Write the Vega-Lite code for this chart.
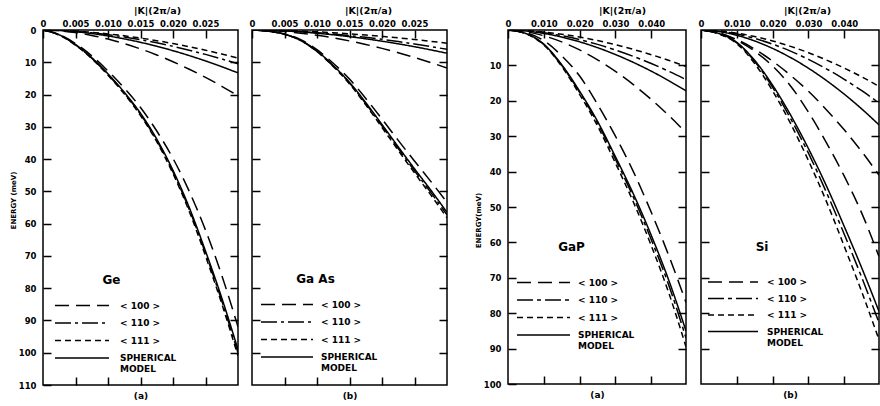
{
"$schema":"https://vega.github.io/schema/vega-lite/v6.json",
"padding":{"left":8,"top":4,"right":0,"bottom":0},
"spacing":22,
"resolve":{"scale":{"strokeDash":"independent"},"legend":{"strokeDash":"independent"}},
"hconcat":[
{"spacing":6,"resolve":{"scale":{"strokeDash":"independent"},"legend":{"strokeDash":"independent"}},"hconcat":[
{"width":195,"height":355,
"data":{"values":[
{"dir":"SPHERICAL MODEL","br":"L","k":0,"e":0},{"dir":"SPHERICAL MODEL","br":"L","k":0.0025,"e":1.5},{"dir":"SPHERICAL MODEL","br":"L","k":0.005,"e":4.5},{"dir":"SPHERICAL MODEL","br":"L","k":0.0075,"e":8.6},{"dir":"SPHERICAL MODEL","br":"L","k":0.01,"e":13.6},{"dir":"SPHERICAL MODEL","br":"L","k":0.0125,"e":19.3},{"dir":"SPHERICAL MODEL","br":"L","k":0.015,"e":25.8},{"dir":"SPHERICAL MODEL","br":"L","k":0.0175,"e":33.8},{"dir":"SPHERICAL MODEL","br":"L","k":0.02,"e":43.5},{"dir":"SPHERICAL MODEL","br":"L","k":0.0225,"e":55},{"dir":"SPHERICAL MODEL","br":"L","k":0.025,"e":68.5},{"dir":"SPHERICAL MODEL","br":"L","k":0.0275,"e":83},{"dir":"SPHERICAL MODEL","br":"L","k":0.03,"e":99},
{"dir":"< 111 >","br":"L","k":0,"e":0},{"dir":"< 111 >","br":"L","k":0.0025,"e":1.6},{"dir":"< 111 >","br":"L","k":0.005,"e":4.7},{"dir":"< 111 >","br":"L","k":0.0075,"e":8.9},{"dir":"< 111 >","br":"L","k":0.01,"e":14},{"dir":"< 111 >","br":"L","k":0.0125,"e":19.8},{"dir":"< 111 >","br":"L","k":0.015,"e":26.5},{"dir":"< 111 >","br":"L","k":0.0175,"e":34.6},{"dir":"< 111 >","br":"L","k":0.02,"e":44.5},{"dir":"< 111 >","br":"L","k":0.0225,"e":56.2},{"dir":"< 111 >","br":"L","k":0.025,"e":70},{"dir":"< 111 >","br":"L","k":0.0275,"e":84.8},{"dir":"< 111 >","br":"L","k":0.03,"e":101},
{"dir":"< 110 >","br":"L","k":0,"e":0},{"dir":"< 110 >","br":"L","k":0.0025,"e":1.5},{"dir":"< 110 >","br":"L","k":0.005,"e":4.6},{"dir":"< 110 >","br":"L","k":0.0075,"e":8.7},{"dir":"< 110 >","br":"L","k":0.01,"e":13.8},{"dir":"< 110 >","br":"L","k":0.0125,"e":19.5},{"dir":"< 110 >","br":"L","k":0.015,"e":26.1},{"dir":"< 110 >","br":"L","k":0.0175,"e":34.2},{"dir":"< 110 >","br":"L","k":0.02,"e":44},{"dir":"< 110 >","br":"L","k":0.0225,"e":55.6},{"dir":"< 110 >","br":"L","k":0.025,"e":69.2},{"dir":"< 110 >","br":"L","k":0.0275,"e":83.9},{"dir":"< 110 >","br":"L","k":0.03,"e":100},
{"dir":"< 100 >","br":"L","k":0,"e":0},{"dir":"< 100 >","br":"L","k":0.0025,"e":1.4},{"dir":"< 100 >","br":"L","k":0.005,"e":4.2},{"dir":"< 100 >","br":"L","k":0.0075,"e":8},{"dir":"< 100 >","br":"L","k":0.01,"e":12.7},{"dir":"< 100 >","br":"L","k":0.0125,"e":18},{"dir":"< 100 >","br":"L","k":0.015,"e":24},{"dir":"< 100 >","br":"L","k":0.0175,"e":31.3},{"dir":"< 100 >","br":"L","k":0.02,"e":39.8},{"dir":"< 100 >","br":"L","k":0.0225,"e":50},{"dir":"< 100 >","br":"L","k":0.025,"e":62},{"dir":"< 100 >","br":"L","k":0.0275,"e":76},{"dir":"< 100 >","br":"L","k":0.03,"e":92},
{"dir":"< 100 >","br":"T","k":0,"e":0},{"dir":"< 100 >","br":"T","k":0.0025,"e":0.23},{"dir":"< 100 >","br":"T","k":0.005,"e":0.81},{"dir":"< 100 >","br":"T","k":0.0075,"e":1.68},{"dir":"< 100 >","br":"T","k":0.01,"e":2.82},{"dir":"< 100 >","br":"T","k":0.0125,"e":4.22},{"dir":"< 100 >","br":"T","k":0.015,"e":5.86},{"dir":"< 100 >","br":"T","k":0.0175,"e":7.73},{"dir":"< 100 >","br":"T","k":0.02,"e":9.83},{"dir":"< 100 >","br":"T","k":0.0225,"e":12.16},{"dir":"< 100 >","br":"T","k":0.025,"e":14.69},{"dir":"< 100 >","br":"T","k":0.0275,"e":17.44},{"dir":"< 100 >","br":"T","k":0.03,"e":20.4},
{"dir":"SPHERICAL MODEL","br":"T","k":0,"e":0},{"dir":"SPHERICAL MODEL","br":"T","k":0.0025,"e":0.15},{"dir":"SPHERICAL MODEL","br":"T","k":0.005,"e":0.53},{"dir":"SPHERICAL MODEL","br":"T","k":0.0075,"e":1.1},{"dir":"SPHERICAL MODEL","br":"T","k":0.01,"e":1.84},{"dir":"SPHERICAL MODEL","br":"T","k":0.0125,"e":2.75},{"dir":"SPHERICAL MODEL","br":"T","k":0.015,"e":3.82},{"dir":"SPHERICAL MODEL","br":"T","k":0.0175,"e":5.04},{"dir":"SPHERICAL MODEL","br":"T","k":0.02,"e":6.41},{"dir":"SPHERICAL MODEL","br":"T","k":0.0225,"e":7.93},{"dir":"SPHERICAL MODEL","br":"T","k":0.025,"e":9.58},{"dir":"SPHERICAL MODEL","br":"T","k":0.0275,"e":11.37},{"dir":"SPHERICAL MODEL","br":"T","k":0.03,"e":13.3},
{"dir":"< 110 >","br":"T","k":0,"e":0},{"dir":"< 110 >","br":"T","k":0.0025,"e":0.12},{"dir":"< 110 >","br":"T","k":0.005,"e":0.42},{"dir":"< 110 >","br":"T","k":0.0075,"e":0.87},{"dir":"< 110 >","br":"T","k":0.01,"e":1.45},{"dir":"< 110 >","br":"T","k":0.0125,"e":2.17},{"dir":"< 110 >","br":"T","k":0.015,"e":3.02},{"dir":"< 110 >","br":"T","k":0.0175,"e":3.98},{"dir":"< 110 >","br":"T","k":0.02,"e":5.06},{"dir":"< 110 >","br":"T","k":0.0225,"e":6.26},{"dir":"< 110 >","br":"T","k":0.025,"e":7.56},{"dir":"< 110 >","br":"T","k":0.0275,"e":8.98},{"dir":"< 110 >","br":"T","k":0.03,"e":10.5},
{"dir":"< 111 >","br":"T","k":0,"e":0},{"dir":"< 111 >","br":"T","k":0.0025,"e":0.1},{"dir":"< 111 >","br":"T","k":0.005,"e":0.35},{"dir":"< 111 >","br":"T","k":0.0075,"e":0.72},{"dir":"< 111 >","br":"T","k":0.01,"e":1.2},{"dir":"< 111 >","br":"T","k":0.0125,"e":1.8},{"dir":"< 111 >","br":"T","k":0.015,"e":2.5},{"dir":"< 111 >","br":"T","k":0.0175,"e":3.3},{"dir":"< 111 >","br":"T","k":0.02,"e":4.19},{"dir":"< 111 >","br":"T","k":0.0225,"e":5.19},{"dir":"< 111 >","br":"T","k":0.025,"e":6.26},{"dir":"< 111 >","br":"T","k":0.0275,"e":7.44},{"dir":"< 111 >","br":"T","k":0.03,"e":8.7}
]},
"layer":[
{"mark":{"type":"line","interpolate":"monotone","color":"black","strokeWidth":1.5,"clip":true},
"encoding":{
"x":{"field":"k","type":"quantitative","scale":{"domain":[0,0.03],"nice":false},"axis":{"orient":"top","values":[0,0.005,0.01,0.015,0.02,0.025],"labelExpr":"datum.value == 0 ? '0' : format(datum.value, '.3f')","title":"|K|(2π/a)","titleX":114}},
"y":{"field":"e","type":"quantitative","scale":{"domain":[0,110],"reverse":true,"nice":false},"axis":{"orient":"left","values":[0,10,20,30,40,50,60,70,80,90,100,110],"title":"ENERGY (meV)","titleY":170,"minExtent":24,"maxExtent":24,"titlePadding":3,"titleFontSize":7}},
"strokeDash":{"field":"dir","type":"nominal","scale":{"domain":["< 100 >","< 110 >","< 111 >","SPHERICAL MODEL"],"range":[[14,7],[16,4,3,4],[6,4],[1,0]]},"legend":{"title":"Ge","legendX":4.5,"legendY":245,"titlePadding":11,"symbolSize":182.25,"labelOffset":57.5,"labelExpr":"datum.label == 'SPHERICAL MODEL' ? ['SPHERICAL','MODEL'] : datum.label"}},
"detail":{"field":"br","type":"nominal"}}},
{"mark":{"type":"point","opacity":0},
"encoding":{
"x":{"field":"k","type":"quantitative","scale":{"domain":[0,0.03],"nice":false},"axis":{"orient":"bottom","values":[0.005,0.01,0.015,0.02,0.025],"labels":false,"title":"(a)"}},
"y":{"field":"e","type":"quantitative","scale":{"domain":[0,110],"reverse":true,"nice":false},"axis":{"orient":"right","values":[10,20,30,40,50,60,70,80,90,100],"labels":false,"title":null}}}}
],
"resolve":{"axis":{"x":"independent","y":"independent"}}},
{"width":195,"height":355,
"data":{"values":[
{"dir":"SPHERICAL MODEL","br":"L","k":0,"e":0},{"dir":"SPHERICAL MODEL","br":"L","k":0.0025,"e":0.4},{"dir":"SPHERICAL MODEL","br":"L","k":0.005,"e":1.3},{"dir":"SPHERICAL MODEL","br":"L","k":0.0075,"e":3.2},{"dir":"SPHERICAL MODEL","br":"L","k":0.01,"e":6.5},{"dir":"SPHERICAL MODEL","br":"L","k":0.0125,"e":11},{"dir":"SPHERICAL MODEL","br":"L","k":0.015,"e":16.2},{"dir":"SPHERICAL MODEL","br":"L","k":0.0175,"e":22.5},{"dir":"SPHERICAL MODEL","br":"L","k":0.02,"e":29.3},{"dir":"SPHERICAL MODEL","br":"L","k":0.0225,"e":36.2},{"dir":"SPHERICAL MODEL","br":"L","k":0.025,"e":43},{"dir":"SPHERICAL MODEL","br":"L","k":0.0275,"e":49.6},{"dir":"SPHERICAL MODEL","br":"L","k":0.03,"e":56.5},
{"dir":"< 111 >","br":"L","k":0,"e":0},{"dir":"< 111 >","br":"L","k":0.0025,"e":0.4},{"dir":"< 111 >","br":"L","k":0.005,"e":1.35},{"dir":"< 111 >","br":"L","k":0.0075,"e":3.3},{"dir":"< 111 >","br":"L","k":0.01,"e":6.7},{"dir":"< 111 >","br":"L","k":0.0125,"e":11.3},{"dir":"< 111 >","br":"L","k":0.015,"e":16.7},{"dir":"< 111 >","br":"L","k":0.0175,"e":23.2},{"dir":"< 111 >","br":"L","k":0.02,"e":30.2},{"dir":"< 111 >","br":"L","k":0.0225,"e":37.3},{"dir":"< 111 >","br":"L","k":0.025,"e":44.3},{"dir":"< 111 >","br":"L","k":0.0275,"e":51.1},{"dir":"< 111 >","br":"L","k":0.03,"e":58.2},
{"dir":"< 110 >","br":"L","k":0,"e":0},{"dir":"< 110 >","br":"L","k":0.0025,"e":0.4},{"dir":"< 110 >","br":"L","k":0.005,"e":1.3},{"dir":"< 110 >","br":"L","k":0.0075,"e":3.25},{"dir":"< 110 >","br":"L","k":0.01,"e":6.6},{"dir":"< 110 >","br":"L","k":0.0125,"e":11.2},{"dir":"< 110 >","br":"L","k":0.015,"e":16.4},{"dir":"< 110 >","br":"L","k":0.0175,"e":22.8},{"dir":"< 110 >","br":"L","k":0.02,"e":29.7},{"dir":"< 110 >","br":"L","k":0.0225,"e":36.7},{"dir":"< 110 >","br":"L","k":0.025,"e":43.6},{"dir":"< 110 >","br":"L","k":0.0275,"e":50.3},{"dir":"< 110 >","br":"L","k":0.03,"e":57.3},
{"dir":"< 100 >","br":"L","k":0,"e":0},{"dir":"< 100 >","br":"L","k":0.0025,"e":0.38},{"dir":"< 100 >","br":"L","k":0.005,"e":1.2},{"dir":"< 100 >","br":"L","k":0.0075,"e":3},{"dir":"< 100 >","br":"L","k":0.01,"e":6.1},{"dir":"< 100 >","br":"L","k":0.0125,"e":10.3},{"dir":"< 100 >","br":"L","k":0.015,"e":15.2},{"dir":"< 100 >","br":"L","k":0.0175,"e":21.2},{"dir":"< 100 >","br":"L","k":0.02,"e":27.6},{"dir":"< 100 >","br":"L","k":0.0225,"e":34.2},{"dir":"< 100 >","br":"L","k":0.025,"e":40.6},{"dir":"< 100 >","br":"L","k":0.0275,"e":46.9},{"dir":"< 100 >","br":"L","k":0.03,"e":53.4},
{"dir":"< 100 >","br":"T","k":0,"e":0},{"dir":"< 100 >","br":"T","k":0.0025,"e":0.13},{"dir":"< 100 >","br":"T","k":0.005,"e":0.47},{"dir":"< 100 >","br":"T","k":0.0075,"e":0.97},{"dir":"< 100 >","br":"T","k":0.01,"e":1.63},{"dir":"< 100 >","br":"T","k":0.0125,"e":2.44},{"dir":"< 100 >","br":"T","k":0.015,"e":3.39},{"dir":"< 100 >","br":"T","k":0.0175,"e":4.47},{"dir":"< 100 >","br":"T","k":0.02,"e":5.69},{"dir":"< 100 >","br":"T","k":0.0225,"e":7.03},{"dir":"< 100 >","br":"T","k":0.025,"e":8.5},{"dir":"< 100 >","br":"T","k":0.0275,"e":10.09},{"dir":"< 100 >","br":"T","k":0.03,"e":11.8},
{"dir":"SPHERICAL MODEL","br":"T","k":0,"e":0},{"dir":"SPHERICAL MODEL","br":"T","k":0.0025,"e":0.08},{"dir":"SPHERICAL MODEL","br":"T","k":0.005,"e":0.29},{"dir":"SPHERICAL MODEL","br":"T","k":0.0075,"e":0.59},{"dir":"SPHERICAL MODEL","br":"T","k":0.01,"e":1},{"dir":"SPHERICAL MODEL","br":"T","k":0.0125,"e":1.49},{"dir":"SPHERICAL MODEL","br":"T","k":0.015,"e":2.07},{"dir":"SPHERICAL MODEL","br":"T","k":0.0175,"e":2.73},{"dir":"SPHERICAL MODEL","br":"T","k":0.02,"e":3.47},{"dir":"SPHERICAL MODEL","br":"T","k":0.0225,"e":4.29},{"dir":"SPHERICAL MODEL","br":"T","k":0.025,"e":5.18},{"dir":"SPHERICAL MODEL","br":"T","k":0.0275,"e":6.16},{"dir":"SPHERICAL MODEL","br":"T","k":0.03,"e":7.2},
{"dir":"< 110 >","br":"T","k":0,"e":0},{"dir":"< 110 >","br":"T","k":0.0025,"e":0.07},{"dir":"< 110 >","br":"T","k":0.005,"e":0.24},{"dir":"< 110 >","br":"T","k":0.0075,"e":0.5},{"dir":"< 110 >","br":"T","k":0.01,"e":0.83},{"dir":"< 110 >","br":"T","k":0.0125,"e":1.24},{"dir":"< 110 >","br":"T","k":0.015,"e":1.72},{"dir":"< 110 >","br":"T","k":0.0175,"e":2.27},{"dir":"< 110 >","br":"T","k":0.02,"e":2.89},{"dir":"< 110 >","br":"T","k":0.0225,"e":3.58},{"dir":"< 110 >","br":"T","k":0.025,"e":4.32},{"dir":"< 110 >","br":"T","k":0.0275,"e":5.13},{"dir":"< 110 >","br":"T","k":0.03,"e":6},
{"dir":"< 111 >","br":"T","k":0,"e":0},{"dir":"< 111 >","br":"T","k":0.0025,"e":0.05},{"dir":"< 111 >","br":"T","k":0.005,"e":0.16},{"dir":"< 111 >","br":"T","k":0.0075,"e":0.34},{"dir":"< 111 >","br":"T","k":0.01,"e":0.57},{"dir":"< 111 >","br":"T","k":0.0125,"e":0.85},{"dir":"< 111 >","br":"T","k":0.015,"e":1.18},{"dir":"< 111 >","br":"T","k":0.0175,"e":1.55},{"dir":"< 111 >","br":"T","k":0.02,"e":1.98},{"dir":"< 111 >","br":"T","k":0.0225,"e":2.44},{"dir":"< 111 >","br":"T","k":0.025,"e":2.95},{"dir":"< 111 >","br":"T","k":0.0275,"e":3.51},{"dir":"< 111 >","br":"T","k":0.03,"e":4.1}
]},
"layer":[
{"mark":{"type":"line","interpolate":"monotone","color":"black","strokeWidth":1.5,"clip":true},
"encoding":{
"x":{"field":"k","type":"quantitative","scale":{"domain":[0,0.03],"nice":false},"axis":{"orient":"top","values":[0,0.005,0.01,0.015,0.02,0.025],"labelExpr":"datum.value == 0 ? '0' : format(datum.value, '.3f')","title":"|K|(2π/a)","titleX":116}},
"y":{"field":"e","type":"quantitative","scale":{"domain":[0,110],"reverse":true,"nice":false},"axis":{"orient":"left","values":[10,20,30,40,50,60,70,80,90,100],"labels":false,"title":null}},
"strokeDash":{"field":"dir","type":"nominal","scale":{"domain":["< 100 >","< 110 >","< 111 >","SPHERICAL MODEL"],"range":[[14,7],[16,4,3,4],[6,4],[1,0]]},"legend":{"title":"Ga As","legendX":1.5,"legendY":244,"titlePadding":11,"symbolSize":169,"labelOffset":52.5,"labelExpr":"datum.label == 'SPHERICAL MODEL' ? ['SPHERICAL','MODEL'] : datum.label"}},
"detail":{"field":"br","type":"nominal"}}},
{"mark":{"type":"point","opacity":0},
"encoding":{
"x":{"field":"k","type":"quantitative","scale":{"domain":[0,0.03],"nice":false},"axis":{"orient":"bottom","values":[0.005,0.01,0.015,0.02,0.025],"labels":false,"title":"(b)"}},
"y":{"field":"e","type":"quantitative","scale":{"domain":[0,110],"reverse":true,"nice":false},"axis":{"orient":"right","values":[10,20,30,40,50,60,70,80,90,100],"labels":false,"title":null}}}}
],
"resolve":{"axis":{"x":"independent","y":"independent"}}}
]},
{"spacing":7,"resolve":{"scale":{"strokeDash":"independent"},"legend":{"strokeDash":"independent"}},"hconcat":[
{"width":178,"height":354,
"data":{"values":[
{"dir":"SPHERICAL MODEL","br":"L","k":0,"e":0},{"dir":"SPHERICAL MODEL","br":"L","k":0.005,"e":1},{"dir":"SPHERICAL MODEL","br":"L","k":0.01,"e":4},{"dir":"SPHERICAL MODEL","br":"L","k":0.015,"e":9.8},{"dir":"SPHERICAL MODEL","br":"L","k":0.02,"e":17.3},{"dir":"SPHERICAL MODEL","br":"L","k":0.025,"e":25.8},{"dir":"SPHERICAL MODEL","br":"L","k":0.03,"e":35.8},{"dir":"SPHERICAL MODEL","br":"L","k":0.035,"e":46.3},{"dir":"SPHERICAL MODEL","br":"L","k":0.04,"e":58},{"dir":"SPHERICAL MODEL","br":"L","k":0.045,"e":71},{"dir":"SPHERICAL MODEL","br":"L","k":0.0497,"e":85},
{"dir":"< 111 >","br":"L","k":0,"e":0},{"dir":"< 111 >","br":"L","k":0.005,"e":1.05},{"dir":"< 111 >","br":"L","k":0.01,"e":4.2},{"dir":"< 111 >","br":"L","k":0.015,"e":10.3},{"dir":"< 111 >","br":"L","k":0.02,"e":18.2},{"dir":"< 111 >","br":"L","k":0.025,"e":27.1},{"dir":"< 111 >","br":"L","k":0.03,"e":37.6},{"dir":"< 111 >","br":"L","k":0.035,"e":48.6},{"dir":"< 111 >","br":"L","k":0.04,"e":60.9},{"dir":"< 111 >","br":"L","k":0.045,"e":74.6},{"dir":"< 111 >","br":"L","k":0.0497,"e":89.5},
{"dir":"< 110 >","br":"L","k":0,"e":0},{"dir":"< 110 >","br":"L","k":0.005,"e":1},{"dir":"< 110 >","br":"L","k":0.01,"e":4.1},{"dir":"< 110 >","br":"L","k":0.015,"e":10},{"dir":"< 110 >","br":"L","k":0.02,"e":17.6},{"dir":"< 110 >","br":"L","k":0.025,"e":26.3},{"dir":"< 110 >","br":"L","k":0.03,"e":36.5},{"dir":"< 110 >","br":"L","k":0.035,"e":47.2},{"dir":"< 110 >","br":"L","k":0.04,"e":59.2},{"dir":"< 110 >","br":"L","k":0.045,"e":72.4},{"dir":"< 110 >","br":"L","k":0.0497,"e":87},
{"dir":"< 100 >","br":"L","k":0,"e":0},{"dir":"< 100 >","br":"L","k":0.005,"e":0.75},{"dir":"< 100 >","br":"L","k":0.01,"e":3},{"dir":"< 100 >","br":"L","k":0.015,"e":7.3},{"dir":"< 100 >","br":"L","k":0.02,"e":13},{"dir":"< 100 >","br":"L","k":0.025,"e":21},{"dir":"< 100 >","br":"L","k":0.03,"e":30},{"dir":"< 100 >","br":"L","k":0.035,"e":40},{"dir":"< 100 >","br":"L","k":0.04,"e":51.5},{"dir":"< 100 >","br":"L","k":0.045,"e":64},{"dir":"< 100 >","br":"L","k":0.0497,"e":77},
{"dir":"< 100 >","br":"T","k":0,"e":0},{"dir":"< 100 >","br":"T","k":0.005,"e":0.46},{"dir":"< 100 >","br":"T","k":0.01,"e":1.62},{"dir":"< 100 >","br":"T","k":0.015,"e":3.36},{"dir":"< 100 >","br":"T","k":0.02,"e":5.63},{"dir":"< 100 >","br":"T","k":0.025,"e":8.42},{"dir":"< 100 >","br":"T","k":0.03,"e":11.69},{"dir":"< 100 >","br":"T","k":0.035,"e":15.43},{"dir":"< 100 >","br":"T","k":0.04,"e":19.62},{"dir":"< 100 >","br":"T","k":0.045,"e":24.25},{"dir":"< 100 >","br":"T","k":0.0497,"e":29},
{"dir":"SPHERICAL MODEL","br":"T","k":0,"e":0},{"dir":"SPHERICAL MODEL","br":"T","k":0.005,"e":0.28},{"dir":"SPHERICAL MODEL","br":"T","k":0.01,"e":0.96},{"dir":"SPHERICAL MODEL","br":"T","k":0.015,"e":1.99},{"dir":"SPHERICAL MODEL","br":"T","k":0.02,"e":3.34},{"dir":"SPHERICAL MODEL","br":"T","k":0.025,"e":4.99},{"dir":"SPHERICAL MODEL","br":"T","k":0.03,"e":6.93},{"dir":"SPHERICAL MODEL","br":"T","k":0.035,"e":9.15},{"dir":"SPHERICAL MODEL","br":"T","k":0.04,"e":11.63},{"dir":"SPHERICAL MODEL","br":"T","k":0.045,"e":14.38},{"dir":"SPHERICAL MODEL","br":"T","k":0.0497,"e":17.2},
{"dir":"< 110 >","br":"T","k":0,"e":0},{"dir":"< 110 >","br":"T","k":0.005,"e":0.22},{"dir":"< 110 >","br":"T","k":0.01,"e":0.78},{"dir":"< 110 >","br":"T","k":0.015,"e":1.62},{"dir":"< 110 >","br":"T","k":0.02,"e":2.72},{"dir":"< 110 >","br":"T","k":0.025,"e":4.06},{"dir":"< 110 >","br":"T","k":0.03,"e":5.64},{"dir":"< 110 >","br":"T","k":0.035,"e":7.45},{"dir":"< 110 >","br":"T","k":0.04,"e":9.47},{"dir":"< 110 >","br":"T","k":0.045,"e":11.71},{"dir":"< 110 >","br":"T","k":0.0497,"e":14},
{"dir":"< 111 >","br":"T","k":0,"e":0},{"dir":"< 111 >","br":"T","k":0.005,"e":0.16},{"dir":"< 111 >","br":"T","k":0.01,"e":0.57},{"dir":"< 111 >","br":"T","k":0.015,"e":1.19},{"dir":"< 111 >","br":"T","k":0.02,"e":2},{"dir":"< 111 >","br":"T","k":0.025,"e":2.99},{"dir":"< 111 >","br":"T","k":0.03,"e":4.15},{"dir":"< 111 >","br":"T","k":0.035,"e":5.48},{"dir":"< 111 >","br":"T","k":0.04,"e":6.97},{"dir":"< 111 >","br":"T","k":0.045,"e":8.61},{"dir":"< 111 >","br":"T","k":0.0497,"e":10.3}
]},
"layer":[
{"mark":{"type":"line","interpolate":"monotone","color":"black","strokeWidth":1.5,"clip":true},
"encoding":{
"x":{"field":"k","type":"quantitative","scale":{"domain":[0,0.0497],"nice":false},"axis":{"orient":"top","values":[0,0.01,0.02,0.03,0.04],"labelExpr":"datum.value == 0 ? '0' : format(datum.value, '.3f')","title":"|K|(2π/a)","titleX":114}},
"y":{"field":"e","type":"quantitative","scale":{"domain":[0,100],"reverse":true,"nice":false},"axis":{"orient":"left","values":[0,10,20,30,40,50,60,70,80,90,100],"labelExpr":"datum.value == 0 ? '' : datum.label","title":"ENERGY(meV)","titleY":190,"minExtent":24,"maxExtent":24,"titlePadding":3,"titleFontSize":7}},
"strokeDash":{"field":"dir","type":"nominal","scale":{"domain":["< 100 >","< 110 >","< 111 >","SPHERICAL MODEL"],"range":[[14,7],[16,4,4,4],[6,4],[1,0]]},"legend":{"title":"GaP","legendX":1.5,"legendY":212,"titlePadding":21,"symbolSize":175.56,"labelOffset":53.5,"labelExpr":"datum.label == 'SPHERICAL MODEL' ? ['SPHERICAL','MODEL'] : datum.label"}},
"detail":{"field":"br","type":"nominal"}}},
{"mark":{"type":"point","opacity":0},
"encoding":{
"x":{"field":"k","type":"quantitative","scale":{"domain":[0,0.0497],"nice":false},"axis":{"orient":"bottom","values":[0.01,0.02,0.03,0.04],"labels":false,"title":"(a)"}},
"y":{"field":"e","type":"quantitative","scale":{"domain":[0,100],"reverse":true,"nice":false},"axis":{"orient":"right","values":[10,20,30,40,50,60,70,80,90],"labels":false,"title":null}}}}
],
"resolve":{"axis":{"x":"independent","y":"independent"}}},
{"width":178,"height":354,
"data":{"values":[
{"dir":"SPHERICAL MODEL","br":"L","k":0,"e":0},{"dir":"SPHERICAL MODEL","br":"L","k":0.005,"e":1},{"dir":"SPHERICAL MODEL","br":"L","k":0.01,"e":3.5},{"dir":"SPHERICAL MODEL","br":"L","k":0.015,"e":8.6},{"dir":"SPHERICAL MODEL","br":"L","k":0.02,"e":15.6},{"dir":"SPHERICAL MODEL","br":"L","k":0.025,"e":24},{"dir":"SPHERICAL MODEL","br":"L","k":0.03,"e":33.5},{"dir":"SPHERICAL MODEL","br":"L","k":0.035,"e":44},{"dir":"SPHERICAL MODEL","br":"L","k":0.04,"e":55.5},{"dir":"SPHERICAL MODEL","br":"L","k":0.045,"e":67.5},{"dir":"SPHERICAL MODEL","br":"L","k":0.0497,"e":79.5},
{"dir":"< 111 >","br":"L","k":0,"e":0},{"dir":"< 111 >","br":"L","k":0.005,"e":1.1},{"dir":"< 111 >","br":"L","k":0.01,"e":3.85},{"dir":"< 111 >","br":"L","k":0.015,"e":9.5},{"dir":"< 111 >","br":"L","k":0.02,"e":17.2},{"dir":"< 111 >","br":"L","k":0.025,"e":26.4},{"dir":"< 111 >","br":"L","k":0.03,"e":36.9},{"dir":"< 111 >","br":"L","k":0.035,"e":48.4},{"dir":"< 111 >","br":"L","k":0.04,"e":61.1},{"dir":"< 111 >","br":"L","k":0.045,"e":74.3},{"dir":"< 111 >","br":"L","k":0.0497,"e":87.5},
{"dir":"< 110 >","br":"L","k":0,"e":0},{"dir":"< 110 >","br":"L","k":0.005,"e":1.04},{"dir":"< 110 >","br":"L","k":0.01,"e":3.64},{"dir":"< 110 >","br":"L","k":0.015,"e":8.9},{"dir":"< 110 >","br":"L","k":0.02,"e":16.2},{"dir":"< 110 >","br":"L","k":0.025,"e":25},{"dir":"< 110 >","br":"L","k":0.03,"e":34.8},{"dir":"< 110 >","br":"L","k":0.035,"e":45.8},{"dir":"< 110 >","br":"L","k":0.04,"e":57.7},{"dir":"< 110 >","br":"L","k":0.045,"e":70.2},{"dir":"< 110 >","br":"L","k":0.0497,"e":82.7},
{"dir":"< 100 >","br":"L","k":0,"e":0},{"dir":"< 100 >","br":"L","k":0.005,"e":0.8},{"dir":"< 100 >","br":"L","k":0.01,"e":2.9},{"dir":"< 100 >","br":"L","k":0.015,"e":6},{"dir":"< 100 >","br":"L","k":0.02,"e":10.2},{"dir":"< 100 >","br":"L","k":0.025,"e":15.8},{"dir":"< 100 >","br":"L","k":0.03,"e":23.2},{"dir":"< 100 >","br":"L","k":0.035,"e":31.8},{"dir":"< 100 >","br":"L","k":0.04,"e":41.3},{"dir":"< 100 >","br":"L","k":0.045,"e":52},{"dir":"< 100 >","br":"L","k":0.0497,"e":64},
{"dir":"< 100 >","br":"T","k":0,"e":0},{"dir":"< 100 >","br":"T","k":0.005,"e":0.8},{"dir":"< 100 >","br":"T","k":0.01,"e":2.7},{"dir":"< 100 >","br":"T","k":0.015,"e":5.4},{"dir":"< 100 >","br":"T","k":0.02,"e":8.8},{"dir":"< 100 >","br":"T","k":0.025,"e":12.8},{"dir":"< 100 >","br":"T","k":0.03,"e":17.3},{"dir":"< 100 >","br":"T","k":0.035,"e":22.5},{"dir":"< 100 >","br":"T","k":0.04,"e":28.2},{"dir":"< 100 >","br":"T","k":0.045,"e":34.5},{"dir":"< 100 >","br":"T","k":0.0497,"e":41},
{"dir":"SPHERICAL MODEL","br":"T","k":0,"e":0},{"dir":"SPHERICAL MODEL","br":"T","k":0.005,"e":0.43},{"dir":"SPHERICAL MODEL","br":"T","k":0.01,"e":1.5},{"dir":"SPHERICAL MODEL","br":"T","k":0.015,"e":3.1},{"dir":"SPHERICAL MODEL","br":"T","k":0.02,"e":5.21},{"dir":"SPHERICAL MODEL","br":"T","k":0.025,"e":7.78},{"dir":"SPHERICAL MODEL","br":"T","k":0.03,"e":10.8},{"dir":"SPHERICAL MODEL","br":"T","k":0.035,"e":14.26},{"dir":"SPHERICAL MODEL","br":"T","k":0.04,"e":18.13},{"dir":"SPHERICAL MODEL","br":"T","k":0.045,"e":22.41},{"dir":"SPHERICAL MODEL","br":"T","k":0.0497,"e":26.8},
{"dir":"< 110 >","br":"T","k":0,"e":0},{"dir":"< 110 >","br":"T","k":0.005,"e":0.33},{"dir":"< 110 >","br":"T","k":0.01,"e":1.15},{"dir":"< 110 >","br":"T","k":0.015,"e":2.38},{"dir":"< 110 >","br":"T","k":0.02,"e":4},{"dir":"< 110 >","br":"T","k":0.025,"e":5.98},{"dir":"< 110 >","br":"T","k":0.03,"e":8.3},{"dir":"< 110 >","br":"T","k":0.035,"e":10.96},{"dir":"< 110 >","br":"T","k":0.04,"e":13.93},{"dir":"< 110 >","br":"T","k":0.045,"e":17.23},{"dir":"< 110 >","br":"T","k":0.0497,"e":20.6},
{"dir":"< 111 >","br":"T","k":0,"e":0},{"dir":"< 111 >","br":"T","k":0.005,"e":0.25},{"dir":"< 111 >","br":"T","k":0.01,"e":0.89},{"dir":"< 111 >","br":"T","k":0.015,"e":1.84},{"dir":"< 111 >","br":"T","k":0.02,"e":3.09},{"dir":"< 111 >","br":"T","k":0.025,"e":4.62},{"dir":"< 111 >","br":"T","k":0.03,"e":6.41},{"dir":"< 111 >","br":"T","k":0.035,"e":8.46},{"dir":"< 111 >","br":"T","k":0.04,"e":10.75},{"dir":"< 111 >","br":"T","k":0.045,"e":13.3},{"dir":"< 111 >","br":"T","k":0.0497,"e":15.9}
]},
"layer":[
{"mark":{"type":"line","interpolate":"monotone","color":"black","strokeWidth":1.5,"clip":true},
"encoding":{
"x":{"field":"k","type":"quantitative","scale":{"domain":[0,0.0497],"nice":false},"axis":{"orient":"top","values":[0,0.01,0.02,0.03,0.04],"labelExpr":"datum.value == 0 ? '0' : format(datum.value, '.3f')","title":"|K|(2π/a)","titleX":106}},
"y":{"field":"e","type":"quantitative","scale":{"domain":[0,100],"reverse":true,"nice":false},"axis":{"orient":"left","values":[10,20,30,40,50,60,70,80,90],"labels":false,"title":null}},
"strokeDash":{"field":"dir","type":"nominal","scale":{"domain":["< 100 >","< 110 >","< 111 >","SPHERICAL MODEL"],"range":[[14,7],[16,4,4,4],[6,4],[1,0]]},"legend":{"title":"Si","legendX":0,"legendY":212,"titlePadding":21,"symbolSize":156.25,"labelOffset":52,"labelExpr":"datum.label == 'SPHERICAL MODEL' ? ['SPHERICAL','MODEL'] : datum.label"}},
"detail":{"field":"br","type":"nominal"}}},
{"mark":{"type":"point","opacity":0},
"encoding":{
"x":{"field":"k","type":"quantitative","scale":{"domain":[0,0.0497],"nice":false},"axis":{"orient":"bottom","values":[0.01,0.02,0.03,0.04],"labels":false,"title":"(b)"}},
"y":{"field":"e","type":"quantitative","scale":{"domain":[0,100],"reverse":true,"nice":false},"axis":{"orient":"right","values":[10,20,30,40,50,60,70,80,90],"labels":false,"title":null}}}}
],
"resolve":{"axis":{"x":"independent","y":"independent"}}}
]}
],
"config":{
"font":"DejaVu Sans",
"view":{"stroke":"black","strokeWidth":1.5},
"axis":{"domain":false,"grid":false,"ticks":true,"tickSize":-8,"tickColor":"black","tickWidth":1.5,"labelColor":"black","labelFontSize":8.5,"labelFontWeight":"bold","labelPadding":15,"titleColor":"black","titleFontWeight":"bold","titleFontSize":9,"labelFlush":false,"labelOverlap":false,"minExtent":0,"maxExtent":0,"titlePadding":6},
"axisTop":{"labelPadding":10,"titleFontSize":9.5,"titlePadding":4,"maxExtent":40},
"legend":{"orient":"none","symbolType":"M0,0H8","symbolStrokeWidth":1.5,"symbolStrokeColor":"black","symbolFillColor":"transparent","labelFontSize":9,"labelFontWeight":"bold","labelColor":"black","titleFontSize":12,"titleFontWeight":"bold","titleColor":"black","rowPadding":4.5,"titleAnchor":"middle","padding":0,"symbolOffset":0}
}
}
